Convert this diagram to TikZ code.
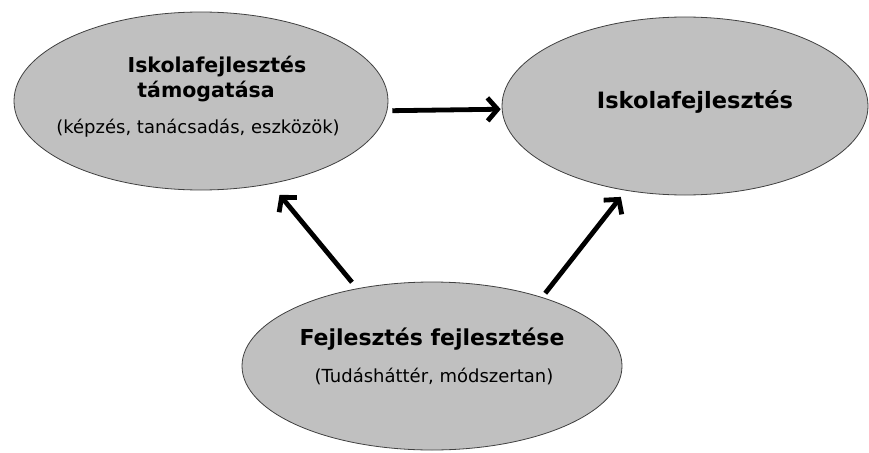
\documentclass[tikz,border=0pt]{standalone}
\usepackage{fontspec}
\setmainfont{DejaVu Sans}
\usetikzlibrary{shapes.geometric,arrows.meta}
\definecolor{blobgray}{RGB}{192,192,192}
\begin{document}
\begin{tikzpicture}[x=1pt,y=-1pt,
  blob/.style={ellipse,draw=black!75,line width=0.8pt,fill=blobgray,inner sep=0pt},
  headtxt/.style={anchor=base,inner sep=0pt,font=\bfseries},
  subtxt/.style={anchor=base,inner sep=0pt,font=\fontsize{18}{21}\selectfont},
  flow/.style={line width=4.8pt,-{Straight Barb[length=10pt,width=23pt]}}]
\useasboundingbox (0,0) rectangle (869,452);
% the three ellipses
\node[blob,minimum width=374pt,minimum height=178pt] (lsup) at (201,101) {};
\node[blob,minimum width=366pt,minimum height=178pt] (rschool) at (685,106) {};
\node[blob,minimum width=380pt,minimum height=168pt] (bdev) at (432,366) {};
% texts
\node[headtxt,font=\bfseries\fontsize{20.5}{24}\selectfont] (lsupa) at (217,72) {Iskolafejlesztés};
\node[headtxt,font=\bfseries\fontsize{20.5}{24}\selectfont] (lsupb) at (206,97) {támogatása};
\node[subtxt] (lsupc) at (198,133) {(képzés, tanácsadás, eszközök)};
\node[headtxt,font=\bfseries\fontsize{22.5}{26}\selectfont] (rschoola) at (695,108) {Iskolafejlesztés};
\node[headtxt,font=\bfseries\fontsize{22}{26}\selectfont] (bdeva) at (432,345) {Fejlesztés fejlesztése};
\node[subtxt] (bdevb) at (434,382) {(Tudásháttér, módszertan)};
% arrows
\draw[flow,shorten <=5pt,shorten >=1pt] (lsup.-3) -- (rschool.181);
\draw[flow,shorten <=8pt,shorten >=14pt] (bdev.134) -- (lsup.-50);
\draw[flow,shorten <=5pt,shorten >=8pt] (bdev.32.4) -- (rschool.235.7);
\end{tikzpicture}
\end{document}
